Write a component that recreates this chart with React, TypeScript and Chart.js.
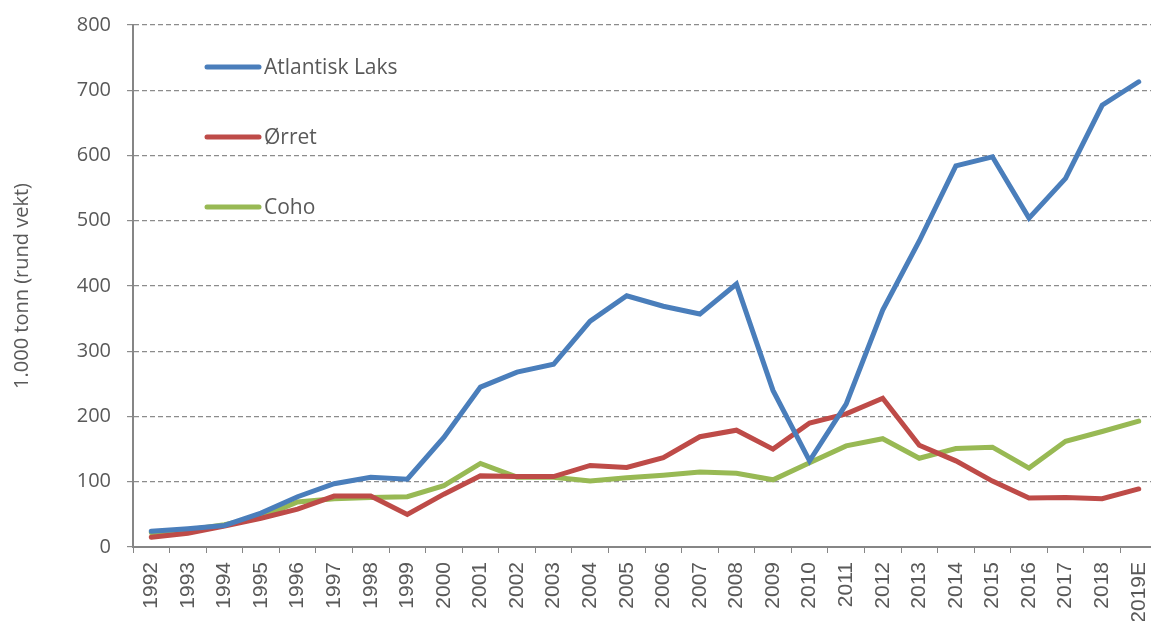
import React, { useEffect, useRef } from "react";
import { Chart, registerables } from "chart.js";

Chart.register(...registerables);

const years = ["1992","1993","1994","1995","1996","1997","1998","1999","2000","2001","2002","2003","2004","2005","2006","2007","2008","2009","2010","2011","2012","2013","2014","2015","2016","2017","2018","2019E"];
const atlantiskLaks = [24,28,33,52,77,97,107,104,168,245,268,280,346,385,369,357,403,240,132,219,363,469,584,598,504,565,677,713];
const orret = [15,21,32,44,58,78,78,50,81,109,108,108,125,122,137,169,179,150,190,204,228,156,132,101,75,76,74,89];
const coho = [22,26,34,46,69,74,76,77,94,128,107,107,101,106,110,115,113,103,129,155,166,136,151,153,121,162,177,193];
const yTicks = [0,100,200,300,400,500,600,700,800];
const seriesNames = ["Atlantisk Laks", "Ørret", "Coho"];
const seriesColors = ["#4a7ebb", "#be4b48", "#98b954"];

const FONT = "'Open Sans', sans-serif";
const XFONT = "'Liberation Sans', Arial, sans-serif";
const GREY = "#595959";

const insideLegend = {
  id: "insideLegend",
  afterDraw(chart: any) {
    const ctx = chart.ctx;
    const ys = [67, 137, 207];
    ctx.save();
    chart.data.datasets.forEach((ds: any, i: number) => {
      ctx.strokeStyle = ds.borderColor;
      ctx.lineWidth = 5;
      ctx.lineCap = "round";
      ctx.beginPath();
      ctx.moveTo(207, ys[i]);
      ctx.lineTo(259, ys[i]);
      ctx.stroke();
      ctx.fillStyle = GREY;
      ctx.font = `21px ${FONT}`;
      ctx.textBaseline = "middle";
      ctx.textAlign = "left";
      ctx.fillText(ds.label, 264, ys[i] + 1);
    });
    ctx.restore();
  },
};

export default function App() {
  const ref = useRef<HTMLCanvasElement>(null);
  useEffect(() => {
    document.body.style.margin = "0";
    const values = [atlantiskLaks, orret, coho];
    const chart = new Chart(ref.current!, {
      type: "line",
      data: {
        labels: years,
        datasets: values.map((v, i) => ({
          label: seriesNames[i],
          data: v,
          borderColor: seriesColors[i],
          backgroundColor: seriesColors[i],
          borderWidth: 5,
          pointRadius: 0,
          tension: 0,
          borderCapStyle: "round" as const,
          borderJoinStyle: "miter" as const,
        })),
      },
      options: {
        animation: false,
        responsive: false,
        layout: { padding: { top: 25, right: 3, left: 0, bottom: 0 } },
        plugins: { legend: { display: false }, tooltip: { enabled: false } },
        scales: {
          x: {
            offset: true,
            afterFit: (axis: any) => { axis.height = 74; axis.paddingRight = 0; axis.paddingLeft = 0; },
            grid: { display: true, drawOnChartArea: false, drawTicks: true, tickLength: 6, offset: true, color: "#868686" },
            border: { display: true, color: "#868686", width: 2 },
            ticks: { color: GREY, font: { family: XFONT, size: 21 }, minRotation: 90, maxRotation: 90, autoSkip: false, padding: 9 },
          },
          y: {
            min: 0,
            max: 800,
            afterFit: (axis: any) => { axis.width = 133; axis.paddingTop = 0; axis.paddingBottom = 0; },
            afterBuildTicks: (axis: any) => { axis.ticks = yTicks.map((v) => ({ value: v })); },
            grid: { color: "#8c8c8c", tickLength: 6, lineWidth: 1.2 },
            border: { display: true, color: "#868686", width: 2, dash: [5, 3] },
            ticks: { color: GREY, font: { family: FONT, size: 20 }, padding: 16 },
            title: { display: true, text: "1.000 tonn (rund vekt)", color: GREY, font: { family: FONT, size: 20 }, padding: { top: 10, bottom: 0 } },
          },
        },
      },
      plugins: [insideLegend],
    });
    return () => chart.destroy();
  }, []);
  return (
    <div style={{ width: 1151, height: 621, overflow: "hidden" }}>
      <canvas ref={ref} width={1160} height={621} style={{ display: "block" }} />
    </div>
  );
}
